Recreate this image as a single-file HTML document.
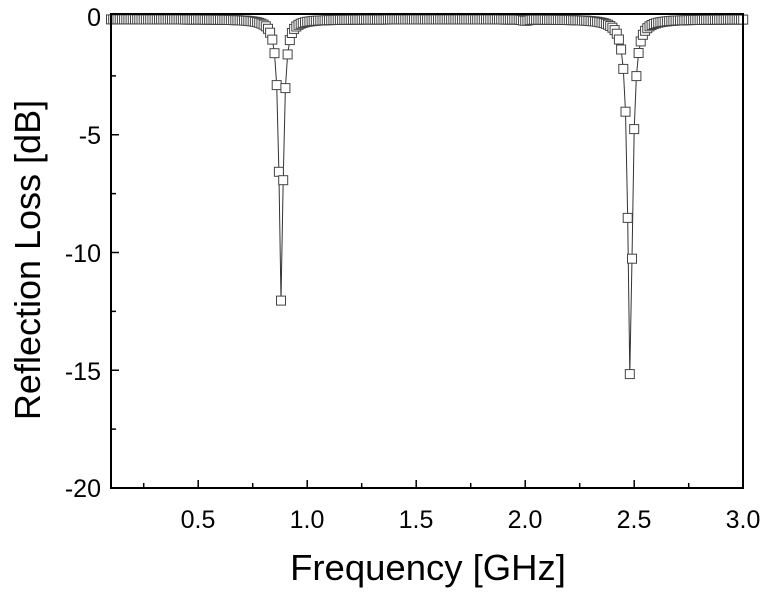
<!DOCTYPE html>
<html><head><meta charset="utf-8"><style>html,body{margin:0;padding:0;background:#fff;}svg{display:block;}</style></head>
<body>
<svg id="s" width="772" height="595" xmlns="http://www.w3.org/2000/svg" font-family="Liberation Sans, Arial, sans-serif">
<g id="data"></g>
<rect x="111" y="14" width="632" height="474" fill="none" stroke="#000" stroke-width="2"/>
<g id="ticks" stroke="#000" stroke-width="1.5"></g>
<g font-size="25" fill="#000" text-anchor="middle">
<text x="198" y="528">0.5</text><text x="307" y="528">1.0</text><text x="416" y="528">1.5</text>
<text x="525" y="528">2.0</text><text x="634" y="528">2.5</text><text x="743" y="528">3.0</text>
</g>
<g font-size="25" fill="#000" text-anchor="end">
<text x="101" y="26">0</text><text x="101" y="144">-5</text><text x="101" y="262">-10</text>
<text x="101" y="380">-15</text><text x="101" y="497">-20</text>
</g>
<text x="428" y="580" font-size="36.5" text-anchor="middle">Frequency [GHz]</text>
<text transform="translate(40,260) rotate(-90)" font-size="36" text-anchor="middle">Reflection Loss [dB]</text>
</svg>
<script>
var X=f=>111+(f-0.1)*218, Y=d=>17-d*23.55;
var t='';
for(var f=0.25;f<3;f+=0.25){var x=X(f),L=(Math.round(f*4)%2==0)?8:5;t+='<line x1="'+x+'" y1="488" x2="'+x+'" y2="'+(488-L)+'"/>';}
for(var d=-2.5;d>-20;d-=2.5){var y=Y(d),L=(Math.round(d/2.5)%2==0)?8:5;t+='<line x1="111" y1="'+y+'" x2="'+(111+L)+'" y2="'+y+'"/>';}
document.getElementById('ticks').innerHTML=t;
function rl(f){var v=-0.1;
v+=-11.95/(1+Math.pow((f-0.8803)/0.0112,2));
v+=-15.2/(1+Math.pow((f-2.4812)/0.0125,2));
v+=-0.05*Math.exp(-Math.pow((f-2.0)/0.02,2));
return v;}
var pts=[],m='';
for(var i=0;i<=290;i++){var f=0.1+i*0.01;var x=X(f),y=Y(rl(f));pts.push(x.toFixed(1)+','+y.toFixed(1));
m+='<rect x="'+(x-4.5).toFixed(1)+'" y="'+(y-4.5).toFixed(1)+'" width="9" height="9" fill="#fff" stroke="#444" stroke-width="1"/>';}
document.getElementById('data').innerHTML='<polyline points="'+pts.join(' ')+'" fill="none" stroke="#333" stroke-width="1"/>'+m;
</script>
</body></html>
